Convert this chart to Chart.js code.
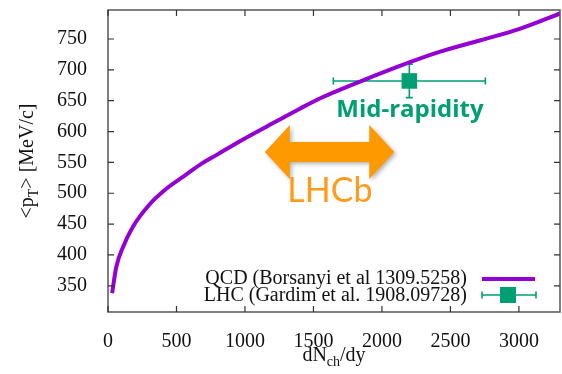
<!DOCTYPE html>
<html>
<head>
<meta charset="utf-8">
<script src="https://cdn.jsdelivr.net/npm/chart.js@4.4.1/dist/chart.umd.min.js"></script>
<style>
  html, body { margin: 0; padding: 0; background: #fff; }
</style>
</head>
<body>
<canvas id="ptChart" width="562" height="374"></canvas>
<script>
// QCD curve: mean pT vs charged multiplicity
const qcdNch = [30, 60, 110, 180, 300, 430, 550, 670, 800, 960, 1250, 1400, 1550, 1840, 2200, 2420, 2720, 3000, 3320];
const qcdPt = [338, 380, 413, 445, 481, 508, 527, 546, 563, 584, 619, 637, 654, 681, 712, 729, 748, 766, 793];

// LHC measurement (mid-rapidity)
const lhcNch = [2200];
const lhcPt = [682];
const lhcNchErr = [555];
const lhcPtErr = [27];

const xTicks = [0, 500, 1000, 1500, 2000, 2500, 3000];
const yTicks = [350, 400, 450, 500, 550, 600, 650, 700, 750];

const qcdLabel = "QCD (Borsanyi et al 1309.5258)";
const lhcLabel = "LHC (Gardim et al. 1908.09728)";

const purple = "#9400d3";
const green = "#009e73";
const orange = "#ff9900";
const serif = "'Liberation Serif', 'DejaVu Serif', serif";
const sans = "Lato, 'Open Sans', sans-serif";

// Helpers
const getById = (id) => document.getElementById(id);

function drawSubText(ctx, parts, x, y, align) {
  // parts: [text, isSub]
  const widths = parts.map(([t, sub]) => {
    ctx.font = sub ? `14px ${serif}` : `20px ${serif}`;
    return ctx.measureText(t).width;
  });
  const total = widths.reduce((a, b) => a + b, 0);
  let cx = align === "center" ? x - total / 2 : x;
  ctx.textAlign = "left";
  ctx.textBaseline = "alphabetic";
  parts.forEach(([t, sub], i) => {
    ctx.font = sub ? `14px ${serif}` : `20px ${serif}`;
    ctx.fillText(t, cx, sub ? y + 5 : y);
    cx += widths[i];
  });
}

function drawErrorBar(ctx, xs, ys, x, y, dx, dy) {
  const px = xs.getPixelForValue(x), py = ys.getPixelForValue(y);
  const x0 = xs.getPixelForValue(x - dx), x1 = xs.getPixelForValue(x + dx);
  const y0 = ys.getPixelForValue(y - dy), y1 = ys.getPixelForValue(y + dy);
  ctx.beginPath();
  ctx.moveTo(x0, py); ctx.lineTo(x1, py);
  ctx.moveTo(x0, py - 3.5); ctx.lineTo(x0, py + 3.5);
  ctx.moveTo(x1, py - 3.5); ctx.lineTo(x1, py + 3.5);
  ctx.moveTo(px, y0); ctx.lineTo(px, y1);
  ctx.moveTo(px - 3.5, y0); ctx.lineTo(px + 3.5, y0);
  ctx.moveTo(px - 3.5, y1); ctx.lineTo(px + 3.5, y1);
  ctx.stroke();
}

const framePlugin = {
  id: "frame",
  beforeDatasetsDraw(chart) {
    const { ctx, scales: { x, y } } = chart;
    ctx.save();
    ctx.strokeStyle = green;
    ctx.lineWidth = 1.6;
    lhcNch.forEach((n, i) => drawErrorBar(ctx, x, y, n, lhcPt[i], lhcNchErr[i], lhcPtErr[i]));
    ctx.restore();
  },
  afterDraw(chart) {
    const { ctx, chartArea: a, scales: { x, y } } = chart;
    ctx.save();

    // box and mirrored inward ticks
    ctx.strokeStyle = "#555";
    ctx.lineWidth = 1.5;
    ctx.strokeRect(a.left, a.top, a.right - a.left, a.bottom - a.top);
    ctx.strokeStyle = "#333";
    ctx.lineWidth = 1.2;
    ctx.beginPath();
    xTicks.forEach(v => {
      const px = x.getPixelForValue(v);
      ctx.moveTo(px, a.bottom); ctx.lineTo(px, a.bottom - 6);
      ctx.moveTo(px, a.top); ctx.lineTo(px, a.top + 6);
    });
    yTicks.forEach(v => {
      const py = y.getPixelForValue(v);
      ctx.moveTo(a.left, py); ctx.lineTo(a.left + 6, py);
      ctx.moveTo(a.right, py); ctx.lineTo(a.right - 6, py);
    });
    ctx.stroke();

    // axis titles
    ctx.fillStyle = "#111";
    drawSubText(ctx, [["dN", false], ["ch", true], ["/dy", false]], 334, 361, "center");
    ctx.save();
    ctx.translate(33, 161);
    ctx.rotate(-Math.PI / 2);
    drawSubText(ctx, [["<p", false], ["T", true], ["> [MeV/c]", false]], 0, 0, "center");
    ctx.restore();

    // legend
    ctx.font = `20px ${serif}`;
    ctx.textAlign = "right";
    ctx.textBaseline = "middle";
    ctx.fillStyle = "#111";
    ctx.fillText(qcdLabel, 467, 279);
    ctx.fillText(lhcLabel, 467, 296);
    ctx.strokeStyle = purple;
    ctx.lineWidth = 4;
    ctx.beginPath();
    ctx.moveTo(482, 279); ctx.lineTo(535, 279);
    ctx.stroke();
    ctx.strokeStyle = green;
    ctx.lineWidth = 1.6;
    ctx.beginPath();
    ctx.moveTo(482, 295); ctx.lineTo(536, 295);
    ctx.moveTo(482, 291.5); ctx.lineTo(482, 298.5);
    ctx.moveTo(536, 291.5); ctx.lineTo(536, 298.5);
    ctx.stroke();
    ctx.fillStyle = green;
    ctx.fillRect(500, 287, 16, 16);

    // LHCb acceptance arrow
    const ax0 = x.getPixelForValue(1145), ax1 = x.getPixelForValue(2090);
    const ay = y.getPixelForValue(567);
    ctx.save();
    ctx.shadowColor = "rgba(0,0,0,0.3)";
    ctx.shadowBlur = 4;
    ctx.shadowOffsetX = 2;
    ctx.shadowOffsetY = 2;
    ctx.fillStyle = orange;
    ctx.beginPath();
    ctx.moveTo(ax0, ay);
    ctx.lineTo(ax0 + 25, ay - 27);
    ctx.lineTo(ax0 + 25, ay - 10);
    ctx.lineTo(ax1 - 25, ay - 10);
    ctx.lineTo(ax1 - 25, ay - 27);
    ctx.lineTo(ax1, ay);
    ctx.lineTo(ax1 - 25, ay + 27);
    ctx.lineTo(ax1 - 25, ay + 10);
    ctx.lineTo(ax0 + 25, ay + 10);
    ctx.lineTo(ax0 + 25, ay + 27);
    ctx.closePath();
    ctx.fill();
    ctx.restore();

    ctx.textAlign = "center";
    ctx.textBaseline = "alphabetic";
    ctx.fillStyle = "#ff9a1a";
    ctx.font = `34px ${sans}`;
    ctx.fillText("LHCb", x.getPixelForValue(1620), y.getPixelForValue(485));

    ctx.fillStyle = green;
    ctx.font = `bold 24px 'Open Sans', ${sans}`;
    ctx.fillText("Mid-rapidity", x.getPixelForValue(2205), y.getPixelForValue(624));

    ctx.restore();
  }
};

new Chart(getById("ptChart").getContext("2d"), {
  type: "scatter",
  data: {
    datasets: [
      {
        label: qcdLabel,
        data: qcdNch.map((n, i) => ({ x: n, y: qcdPt[i] })),
        showLine: true,
        borderColor: purple,
        borderWidth: 4,
        pointRadius: 0,
        cubicInterpolationMode: "monotone",
      },
      {
        label: lhcLabel,
        data: lhcNch.map((n, i) => ({ x: n, y: lhcPt[i] })),
        backgroundColor: green,
        borderColor: green,
        borderWidth: 0,
        pointStyle: "rect",
        pointRadius: 11,
      },
    ],
  },
  options: {
    responsive: false,
    animation: false,
    devicePixelRatio: 1,
    layout: { autoPadding: false, padding: { top: 10, right: 2, left: 0, bottom: 0 } },
    plugins: {
      legend: { display: false },
      tooltip: { enabled: false },
    },
    scales: {
      x: {
        type: "linear",
        min: 0,
        max: 3300,
        grid: { display: false },
        border: { display: false },
        afterBuildTicks: (s) => { s.ticks = xTicks.map(v => ({ value: v })); },
        afterFit: (s) => { s.height = 62; s.paddingLeft = 0; s.paddingRight = 0; },
        ticks: {
          padding: 10,
          maxRotation: 0,
          color: "#111",
          font: { family: serif, size: 20 },
          callback: (v) => String(v),
        },
      },
      y: {
        type: "linear",
        min: 307.5,
        max: 797,
        grid: { display: false },
        border: { display: false },
        afterBuildTicks: (s) => { s.ticks = yTicks.map(v => ({ value: v })); },
        afterFit: (s) => { s.width = 108; s.paddingTop = 0; s.paddingBottom = 0; },
        ticks: {
          padding: 13,
          color: "#111",
          font: { family: serif, size: 20 },
          callback: (v) => String(v),
        },
      },
    },
  },
  plugins: [framePlugin],
});
</script>
</body>
</html>
